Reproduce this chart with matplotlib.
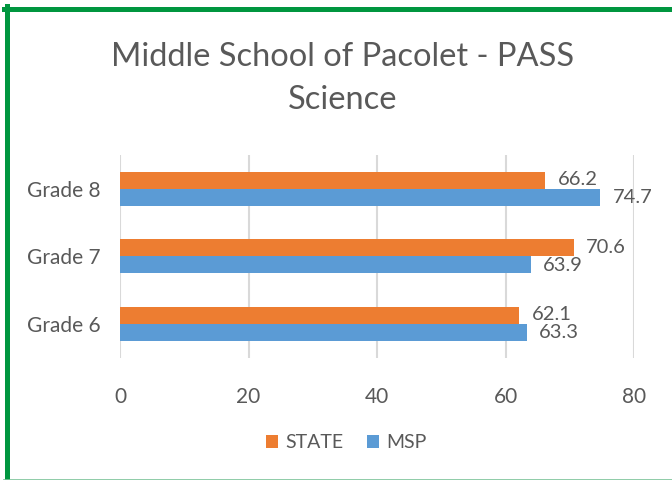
import matplotlib
matplotlib.use("Agg")
import matplotlib.pyplot as plt
from matplotlib.patches import Patch
from matplotlib.lines import Line2D

categories = ["Grade 6", "Grade 7", "Grade 8"]
state = [62.1, 70.6, 66.2]
msp = [63.3, 63.9, 74.7]
xticks = [0, 20, 40, 60, 80]

ORANGE = "#ED7D31"
BLUE = "#5B9BD5"
TXT = "#595959"
GRID = "#D9D9D9"

plt.rcParams['font.family'] = ['Lato', 'DejaVu Sans']

fig = plt.figure(figsize=(6.72, 4.8), dpi=100)
ax = fig.add_axes([120/672, 1-357.5/480, (634-120)/672, (357.5-155)/480])

h = 0.252
ypos = list(range(len(categories)))
ax.barh([y + h/2 for y in ypos], state, height=h, color=ORANGE, zorder=3, label="STATE")
ax.barh([y - h/2 for y in ypos], msp, height=h, color=BLUE, zorder=3, label="MSP")

for y, v in zip(ypos, state):
    ax.annotate(f"{v}", (v, y + h/2), xytext=(9, 0.5), textcoords="offset points",
                ha="left", va="center", fontsize=14.5, color=TXT, zorder=4)
for y, v in zip(ypos, msp):
    ax.annotate(f"{v}", (v, y - h/2), xytext=(9, -0.5), textcoords="offset points",
                ha="left", va="center", fontsize=14.5, color=TXT, zorder=4)

ax.set_xlim(0, 80)
ax.set_ylim(-0.5, 2.5)
ax.set_xticks(xticks)
ax.set_xticklabels([str(t) for t in xticks])
ax.set_yticks(ypos)
ax.set_yticklabels(categories)
ax.tick_params(axis='both', length=0, labelsize=15, labelcolor=TXT)
ax.tick_params(axis='x', pad=21)
ax.tick_params(axis='y', pad=14)
ax.xaxis.grid(True, color=GRID, linewidth=1.5, zorder=0)
ax.set_axisbelow(True)
for s in ax.spines.values():
    s.set_visible(False)

fig.text(343/672, 1-57/480, "Middle School of Pacolet - PASS", ha="center", va="center",
         fontsize=23.5, color=TXT)
fig.text(343/672, 1-100/480, "Science", ha="center", va="center", fontsize=23.5, color=TXT)

handles = [Patch(facecolor=ORANGE), Patch(facecolor=BLUE)]
fig.legend(handles, ["STATE", "MSP"], loc="center", bbox_to_anchor=(346/672, 1-443/480),
           ncol=2, frameon=False, fontsize=14, labelcolor=TXT, handlelength=0.65,
           handleheight=0.65, handletextpad=0.35, columnspacing=1.2)

# green frame (left and top), thin bottom line
fig.add_artist(Line2D([6.5/672, 6.5/672], [0, 1-6/480], transform=fig.transFigure,
                      color="#00963F", linewidth=3.6))
fig.add_artist(Line2D([4/672, 1], [1-8.5/480, 1-8.5/480], transform=fig.transFigure,
                      color="#00963F", linewidth=3.6))
fig.add_artist(Line2D([4/672, 1], [0.5/480, 0.5/480], transform=fig.transFigure,
                      color="#7CC39A", linewidth=1.2))

fig.savefig("out.png", dpi=100)
